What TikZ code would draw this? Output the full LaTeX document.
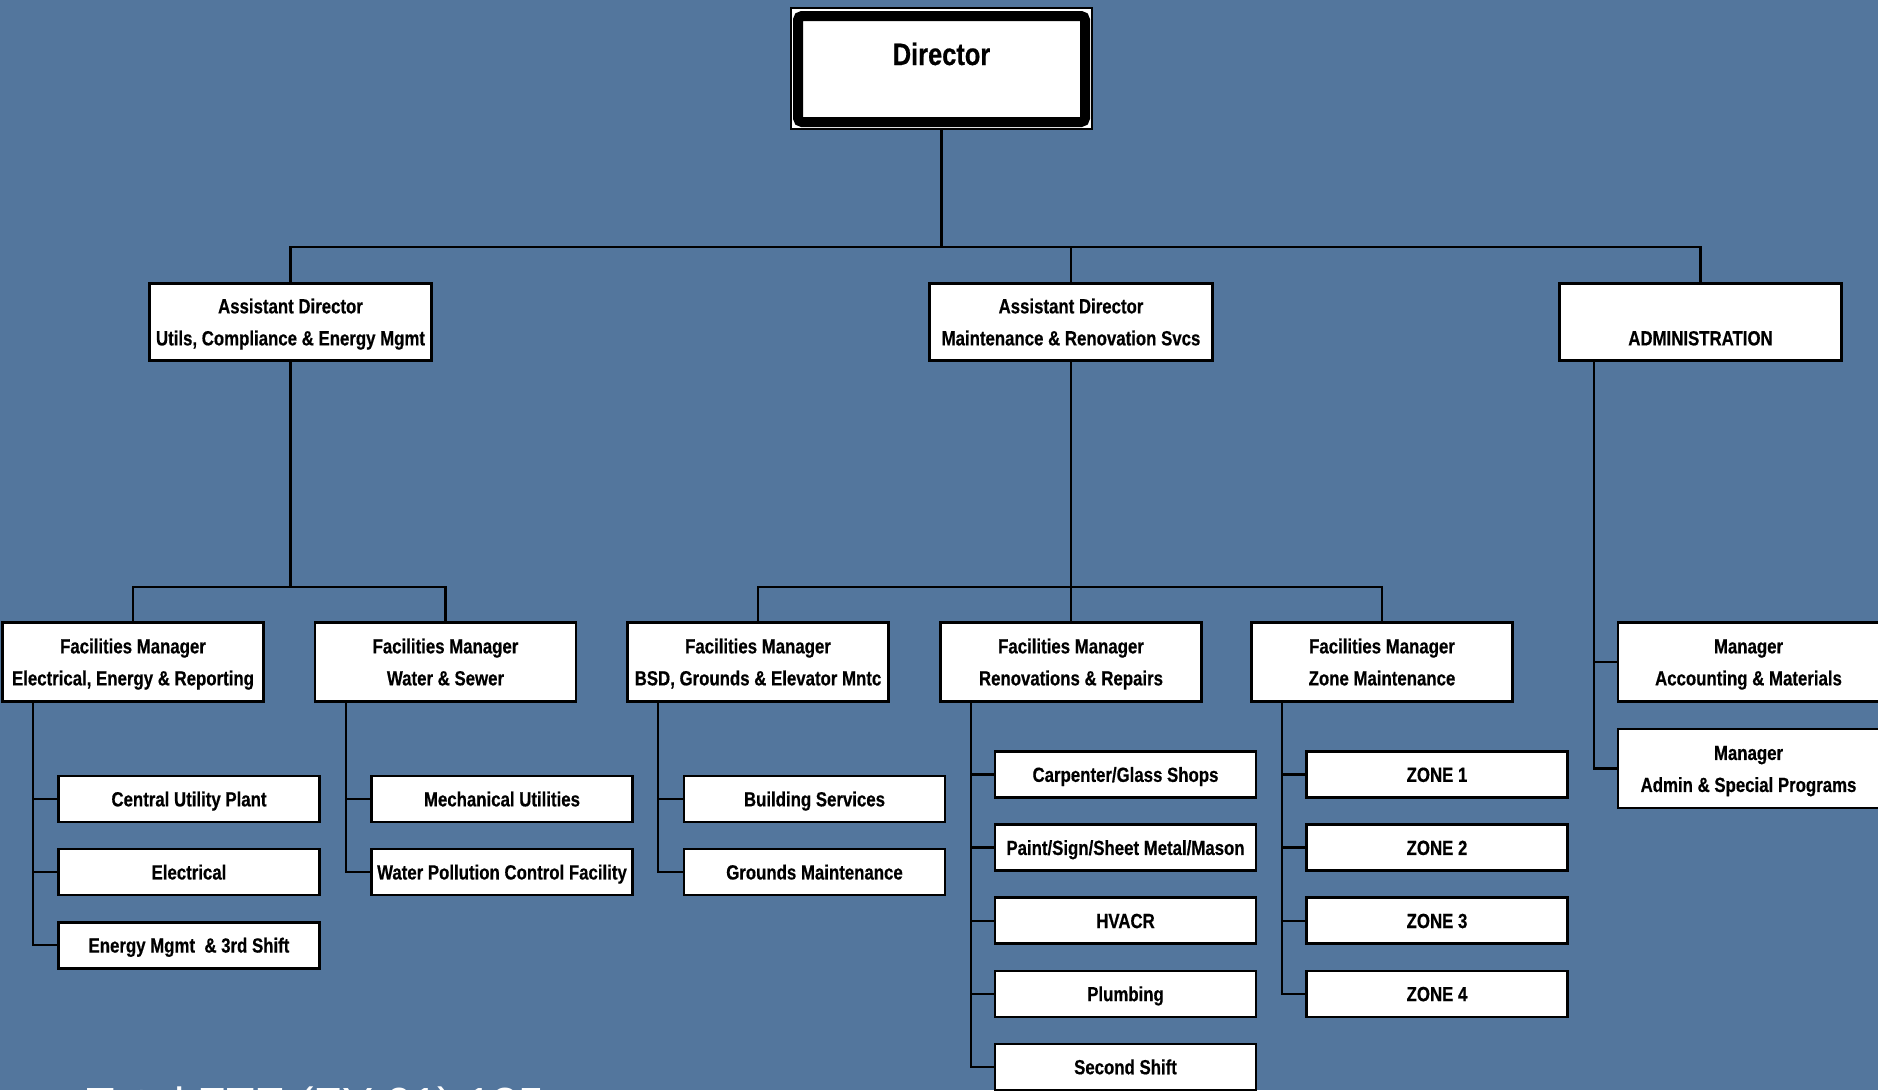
\documentclass[tikz,border=0pt]{standalone}
\usepackage{fontspec}
\setmainfont{Liberation Sans}[FakeStretch=0.82,BoldFeatures={FakeBold=0.5}]
\newfontfamily\notefont{Liberation Sans}
\usetikzlibrary{positioning}
\definecolor{slideblue}{RGB}{83,118,157}

\begin{document}
\begin{tikzpicture}[x=1pt, y=-1pt,
            node distance = 24.5pt,
            line width = 2.4pt,
            box/.style = {draw,line width=2.6pt,fill=white,align=center,inner sep=0pt,
                font=\fontsize{20.5}{32}\selectfont\bfseries,
                text height=14.7pt,text depth=0pt},
            head/.style = {box,text height=46.7pt,minimum width=282.5pt,minimum height=77.5pt},
            mgr/.style = {box,text height=46.7pt,minimum width=261pt,minimum height=79pt},
            leaf/.style = {box,minimum width=261pt,minimum height=46pt}]
    \fill[slideblue] (0,0) rectangle (1878,1090);
    \useasboundingbox (0,0) rectangle (1878,1090);

    \node[draw,fill=white,line width=2pt,minimum width=301pt,minimum height=121pt] (dirframe) at (941.5,68.5) {};
    \node[draw,fill=white,line width=10pt,rounded corners=4pt,minimum width=287pt,minimum height=106pt,
          font=\fontsize{31}{31}\selectfont\bfseries,text height=22pt,text depth=30pt] (dir) at (941.5,69) {Director};

    \node[head] (ad1) at (290.5,322) {Assistant Director\\Utils, Compliance \& Energy Mgmt};
    \node[head] (ad2) at (1071,322) {Assistant Director\\Maintenance \& Renovation Svcs};
    \node[head] (admin) at (1700.5,322) {\mbox{}\\ADMINISTRATION};

    \node[mgr] (fm1) at (133,662) {Facilities Manager\\Electrical, Energy \& Reporting};
    \node[mgr] (fm2) at (445.5,662) {Facilities Manager\\Water \& Sewer};
    \node[mgr] (fm3) at (758,662) {Facilities Manager\\BSD, Grounds \& Elevator Mntc};
    \node[mgr] (fm4) at (1071,662) {Facilities Manager\\Renovations \& Repairs};
    \node[mgr] (fm5) at (1382,662) {Facilities Manager\\Zone Maintenance};
    \node[mgr] (am1) at (1748.5,662) {Manager\\Accounting \& Materials};
    \node[mgr,below=25pt of am1] (am2) {Manager\\Admin \& Special Programs};

    \node[leaf] (cup) at (189,799) {Central Utility Plant};
    \node[leaf,below=of cup] (elec) {Electrical};
    \node[leaf,below=of elec] (emgmt) {Energy Mgmt \ \& 3rd Shift};
    \node[leaf] (mech) at (502,799) {Mechanical Utilities};
    \node[leaf,below=of mech] (wpcf) {Water Pollution Control Facility};
    \node[leaf] (bsvc) at (814.5,799) {Building Services};
    \node[leaf,below=of bsvc] (grnd) {Grounds Maintenance};
    \node[leaf] (carp) at (1125.5,774.5) {Carpenter/Glass Shops};
    \node[leaf,below=of carp] (paint) {Paint/Sign/Sheet Metal/Mason};
    \node[leaf,below=of paint] (hvacr) {HVACR};
    \node[leaf,below=of hvacr] (plumb) {Plumbing};
    \node[leaf,below=of plumb] (shift) {Second Shift};
    \node[leaf] (z1) at (1437,774.5) {ZONE 1};
    \node[leaf,below=of z1] (z2) {ZONE 2};
    \node[leaf,below=of z2] (z3) {ZONE 3};
    \node[leaf,below=of z3] (z4) {ZONE 4};

    \coordinate (bus0) at (941.5,247);
    \coordinate (bus1) at (290.5,587);
    \coordinate (bus2) at (1071,587);
    \draw (dirframe.south) -- (bus0);
    \draw (ad1.north) |- (bus0) -| (admin.north);
    \draw (ad2.north) -- (ad2.north |- bus0);
    \draw (ad1.south) -- (bus1);
    \draw (fm1.north) |- (bus1) -| (fm2.north);
    \draw (ad2.south) -- (bus2);
    \draw (fm3.north) |- (bus2) -| (fm5.north);
    \draw (bus2) -- (fm4.north);

    \path (fm1.south west) ++(32,0) coordinate (t1);
    \path (fm2.south west) ++(32,0) coordinate (t2);
    \path (fm3.south west) ++(32,0) coordinate (t3);
    \path (fm4.south west) ++(32,0) coordinate (t4);
    \path (fm5.south west) ++(32,0) coordinate (t5);
    \path (admin.south west) ++(36,0) coordinate (t6);
    \draw (t1) |- (emgmt.west);
    \draw (t2) |- (wpcf.west);
    \draw (t3) |- (grnd.west);
    \draw (t4) |- (shift.west);
    \draw (t5) |- (z4.west);
    \draw (t6) |- (am2.west);
    \foreach \t/\n in {t1/cup,t1/elec,t2/mech,t3/bsvc,t4/carp,t4/paint,t4/hvacr,t4/plumb,t5/z1,t5/z2,t5/z3,t6/am1}
        \draw (\t |- \n.west) -- (\n.west);

    \node[anchor=base west,text=white,font=\notefont\fontsize{46.5}{50}\selectfont] (fte) at (82,1120) {Total FTE (FY 01) 135};
\end{tikzpicture}
\end{document}
